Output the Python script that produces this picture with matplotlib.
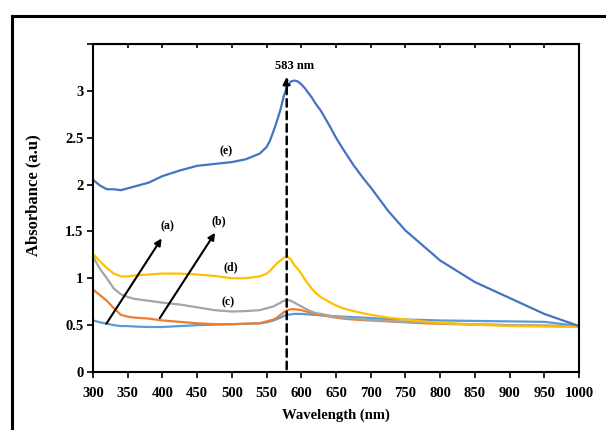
import matplotlib
matplotlib.use("Agg")
import matplotlib.pyplot as plt
from matplotlib.lines import Line2D

# wavelength grid shared by all spectra (nm)
wavelength = [300, 310, 320, 330, 340, 350, 360, 380, 400, 425, 450, 475, 500, 520, 540,
              550, 555, 560, 565, 570, 575, 580, 585, 590, 595, 600, 605, 610, 615, 620,
              628, 635, 642, 650, 660, 675, 690, 700, 712, 725, 750, 775, 800, 850, 900,
              950, 1000]

abs_a = [0.55, 0.53, 0.515, 0.50, 0.49, 0.49, 0.485, 0.48, 0.48, 0.49, 0.50, 0.505, 0.51, 0.515, 0.52,
         0.53, 0.54, 0.55, 0.565, 0.58, 0.60, 0.61, 0.615, 0.62, 0.62, 0.62, 0.618, 0.615, 0.612, 0.61,
         0.605, 0.60, 0.598, 0.595, 0.59, 0.585, 0.58, 0.575, 0.57, 0.565, 0.56, 0.555, 0.55, 0.545, 0.54,
         0.535, 0.49]
abs_b = [0.88, 0.82, 0.76, 0.68, 0.61, 0.59, 0.58, 0.57, 0.55, 0.535, 0.52, 0.51, 0.51, 0.515, 0.52,
         0.54, 0.55, 0.56, 0.58, 0.61, 0.64, 0.66, 0.67, 0.67, 0.665, 0.66, 0.65, 0.64, 0.63, 0.62,
         0.61, 0.60, 0.59, 0.58, 0.57, 0.56, 0.553, 0.55, 0.545, 0.54, 0.53, 0.52, 0.515, 0.505, 0.50,
         0.495, 0.485]
abs_c = [1.23, 1.10, 1.00, 0.89, 0.83, 0.80, 0.78, 0.76, 0.74, 0.72, 0.69, 0.66, 0.645, 0.65, 0.66,
         0.68, 0.69, 0.70, 0.72, 0.74, 0.76, 0.77, 0.76, 0.74, 0.72, 0.70, 0.68, 0.66, 0.645, 0.63,
         0.62, 0.61, 0.60, 0.59, 0.58, 0.57, 0.56, 0.555, 0.55, 0.545, 0.535, 0.53, 0.52, 0.51, 0.50,
         0.495, 0.48]
abs_d = [1.26, 1.18, 1.11, 1.05, 1.02, 1.02, 1.03, 1.04, 1.05, 1.05, 1.04, 1.025, 1.00, 1.00, 1.02,
         1.05, 1.08, 1.12, 1.16, 1.19, 1.22, 1.23, 1.20, 1.14, 1.10, 1.05, 0.99, 0.94, 0.89, 0.85,
         0.80, 0.77, 0.74, 0.71, 0.68, 0.65, 0.625, 0.61, 0.595, 0.58, 0.56, 0.54, 0.525, 0.505, 0.49,
         0.485, 0.48]
abs_e = [2.05, 1.99, 1.95, 1.95, 1.94, 1.96, 1.98, 2.02, 2.09, 2.15, 2.20, 2.22, 2.24, 2.27, 2.33,
         2.40, 2.47, 2.57, 2.68, 2.80, 2.95, 3.05, 3.10, 3.11, 3.10, 3.07, 3.03, 2.98, 2.93, 2.87,
         2.79, 2.70, 2.61, 2.50, 2.38, 2.21, 2.06, 1.97, 1.85, 1.72, 1.51, 1.35, 1.19, 0.96, 0.79,
         0.62, 0.49]

peak_nm = 579
xticks = list(range(300, 1001, 50))
yticks = [0, 0.5, 1, 1.5, 2, 2.5, 3, 3.5]
ytick_labels = ["0", "0.5", "1", "1.5", "2", "2.5", "3", ""]

plt.rcParams["font.family"] = ["Liberation Serif", "DejaVu Serif"]
plt.rcParams["font.weight"] = "bold"

fig = plt.figure(figsize=(6.06, 4.30), dpi=100)
ax = fig.add_axes([0.1535, 0.1349, 0.8019, 0.7628])

ax.plot(wavelength, abs_a, color="#5B9BD5", lw=1.6)
ax.plot(wavelength, abs_b, color="#ED7D31", lw=1.6)
ax.plot(wavelength, abs_c, color="#A5A5A5", lw=1.6)
ax.plot(wavelength, abs_d, color="#FFC000", lw=1.6)
ax.plot(wavelength, abs_e, color="#4472C4", lw=1.6)

ax.set_xlim(300, 1000)
ax.set_ylim(0, 3.5)
ax.set_xticks(xticks)
ax.set_yticks(yticks)
ax.set_yticklabels(ytick_labels)
ax.tick_params(direction="out", length=4, width=1.2, labelsize=10.5, pad=3)
ax.tick_params(axis="x", pad=7)
for side in ["left", "bottom", "right", "top"]:
    ax.spines[side].set_linewidth(1.5)

# small inward ticks along the top edge
top = ax.secondary_xaxis("top")
top.set_xticks(xticks)
top.tick_params(direction="in", length=3, width=1.2, labeltop=False)

ax.set_xlabel("Wavelength (nm)", fontsize=10.5, fontweight="bold", labelpad=6)
ax.set_ylabel("Absorbance (a.u)", fontsize=12, fontweight="bold", labelpad=12)
ax.yaxis.set_label_coords(-0.107, 0.54)

# dashed marker for the plasmon peak
ax.annotate("", xy=(peak_nm, 3.18), xytext=(peak_nm, 0),
            arrowprops=dict(arrowstyle="-|>", color="black", lw=1.8, ls=(0, (3, 2)),
                            mutation_scale=10))
ax.text(591, 3.27, "583 nm", ha="center", va="center", fontsize=9, fontweight="bold")

# arrows pointing to labels (a) and (b)
arrow = dict(arrowstyle="-|>", color="black", lw=1.5, mutation_scale=10)
ax.annotate("", xy=(401, 1.45), xytext=(317, 0.49), arrowprops=arrow)
ax.annotate("", xy=(478, 1.51), xytext=(394, 0.55), arrowprops=arrow)
ax.text(407, 1.56, "(a)", ha="center", va="center", fontsize=8.5, fontweight="bold")
ax.text(481, 1.61, "(b)", ha="center", va="center", fontsize=8.5, fontweight="bold")
ax.text(495, 0.74, "(c)", ha="center", va="center", fontsize=8.5, fontweight="bold")
ax.text(498, 1.12, "(d)", ha="center", va="center", fontsize=8.5, fontweight="bold")
ax.text(492, 2.36, "(e)", ha="center", va="center", fontsize=8.5, fontweight="bold")

# outer frame around the figure (open on right and bottom)
fig.add_artist(Line2D([12 / 606, 12 / 606], [0, 1 - 16 / 430], color="black", lw=2.2,
                      transform=fig.transFigure, solid_capstyle="projecting"))
fig.add_artist(Line2D([12 / 606, 1], [1 - 16 / 430, 1 - 16 / 430], color="black", lw=2.2,
                      transform=fig.transFigure, solid_capstyle="projecting"))

fig.savefig("out.png", dpi=100)
